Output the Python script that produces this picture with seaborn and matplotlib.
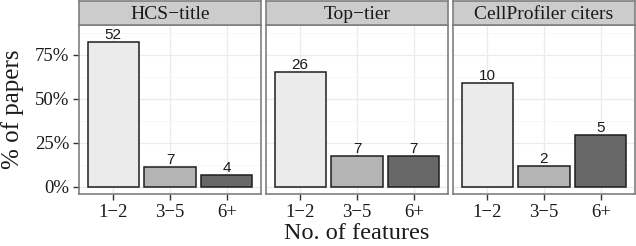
import matplotlib
matplotlib.use('Agg')
import matplotlib.pyplot as plt
import seaborn as sns
import pandas as pd
from matplotlib.ticker import FuncFormatter, MultipleLocator

# data
groups = ['HCS\u2212title', 'Top\u2212tier', 'CellProfiler citers']
features = ['1\u22122', '3\u22125', '6+']
hcs_counts = [52, 7, 4]
toptier_counts = [26, 7, 7]
cp_counts = [10, 2, 5]
fill_greys = ['#ebebeb', '#b4b4b4', '#686868']

sns.set_style('white')
plt.rcParams['font.family'] = ['Liberation Serif', 'DejaVu Serif']

W, H = 636, 246
fig = plt.figure(figsize=(W / 100, H / 100), dpi=100)

rows = []
for g, counts in zip(groups, [hcs_counts, toptier_counts, cp_counts]):
    total = sum(counts)
    for f, c in zip(features, counts):
        rows.append({'group': g, 'features': f, 'count': c, 'pct': 100 * c / total})
df = pd.DataFrame(rows)

panel_left = [79, 266, 453]
panel_w = 182
panel_top, panel_bot = 25, 194
strip_top = 1
border = '#7f7f7f'

for i, g in enumerate(groups):
    sub = df[df['group'] == g]
    ax = fig.add_axes([panel_left[i] / W, (H - panel_bot) / H,
                       panel_w / W, (panel_bot - panel_top) / H])
    sns.barplot(data=sub, x='features', y='pct', hue='features', palette=fill_greys,
                order=features, hue_order=features, width=0.9, legend=False,
                edgecolor='#1e1e1e', linewidth=1.1, ax=ax, zorder=3)
    for cont, c in zip(ax.containers, sub['count']):
        ax.bar_label(cont, labels=[str(c)], padding=0, fontsize=11,
                     family='Liberation Sans', color='#1a1a1a')
    ax.set_xlim(-0.6, 2.6)
    ax.set_ylim(-4.2, 92)
    ax.yaxis.set_major_locator(MultipleLocator(25))
    ax.yaxis.set_minor_locator(MultipleLocator(12.5))
    ax.yaxis.set_major_formatter(FuncFormatter(lambda v, p: f'{v:.0f}%'))
    ax.grid(which='major', color='#ebebeb', linewidth=0.9, zorder=0)
    ax.grid(which='minor', axis='y', color='#f6f6f6', linewidth=0.6, zorder=0)
    ax.set_axisbelow(True)
    for s in ax.spines.values():
        s.set_color(border)
        s.set_linewidth(1.2)
    ax.set_xlabel('')
    ax.set_ylabel('')
    ax.tick_params(axis='both', which='major', direction='out', length=4, width=1,
                   color='#333333', labelsize=13.5, labelcolor='#1a1a1a', pad=3,
                   bottom=True, left=(i == 0))
    ax.tick_params(axis='y', which='minor', left=False)
    if i > 0:
        ax.set_yticklabels([])

    # facet strip
    sax = fig.add_axes([panel_left[i] / W, (H - panel_top) / H,
                        panel_w / W, (panel_top - strip_top) / H])
    sax.set_facecolor('#cccccc')
    sax.set_xticks([])
    sax.set_yticks([])
    for s in sax.spines.values():
        s.set_color(border)
        s.set_linewidth(1.2)
    sax.text(0.5, 0.45, g, ha='center', va='center', fontsize=14,
             color='#1a1a1a', transform=sax.transAxes)

fig.text(13 / W, 0.5 * (2 * H - panel_top - panel_bot) / H, '% of papers',
         rotation=90, ha='center', va='center', fontsize=18, color='#1a1a1a')
fig.text(357 / W, 2 / H, 'No. of features', ha='center', va='bottom',
         fontsize=17.5, color='#1a1a1a')

fig.savefig('out.png', dpi=100)
